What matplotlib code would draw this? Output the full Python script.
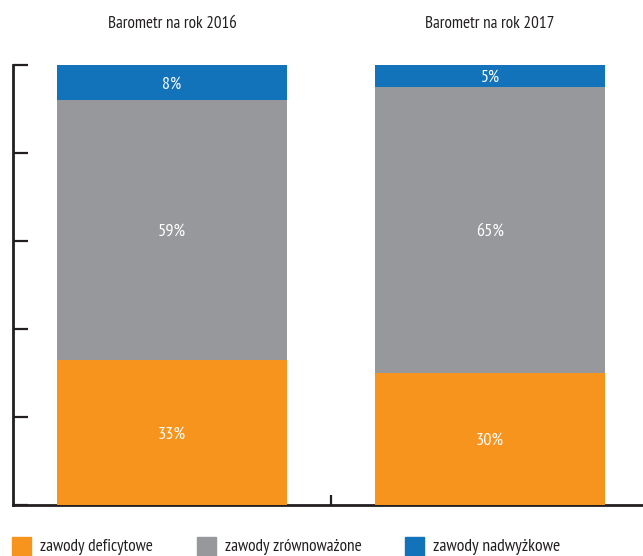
import numpy as np
import matplotlib
matplotlib.use('Agg')
import matplotlib.pyplot as plt
import matplotlib.patches as mpatches

plt.rcParams['font.family'] = ['PT Sans Narrow', 'DejaVu Sans']

# data
years = ['Barometr na rok 2016', 'Barometr na rok 2017']
series = ['zawody deficytowe', 'zawody zrównoważone', 'zawody nadwyżkowe']
deficyt = [33, 30]
rownowaga = [59, 65]
nadwyzka = [8, 5]
colors = ['#F7941E', '#97989B', '#1373BA']

W, H = 643, 556
fig = plt.figure(figsize=(W/100, H/100), dpi=100)
ax = fig.add_axes([13/W, 51/H, 636/W, 440/H])
renderer = fig.canvas.get_renderer()


def fit(t, width_px):
    # scale font so the text takes the width seen in the reference
    w = t.get_window_extent(renderer).width
    t.set_fontsize(t.get_fontsize() * width_px / w)


x = np.arange(len(years))
bw = 0.723
bottom = np.zeros(len(years))
for vals, col in zip([deficyt, rownowaga, nadwyzka], colors):
    ax.bar(x, vals, bw, bottom=bottom, color=col, edgecolor='none', zorder=1)
    for xi, b, v in zip(x, bottom, vals):
        t = ax.text(xi, b + v/2, f'{v}%', ha='center', va='center_baseline',
                    color='white', fontsize=11.5)
        fit(t, 28 if v >= 10 else 19)
    bottom += np.array(vals)

for xi, lab in zip(x, years):
    t = ax.text(xi, 109.3, lab, ha='center', va='center', fontsize=12, color='#231F20')
    fit(t, 129)

ax.set_xlim(-0.5, 1.5)
ax.set_ylim(0, 100)
ax.set_yticks(np.arange(0, 101, 20))
ax.set_yticklabels([])
ax.set_xticks([0.5])
ax.set_xticklabels([])
ax.tick_params(axis='y', direction='in', length=11, width=1.6, color='#231F20')
ax.tick_params(axis='x', direction='in', length=7, width=1.6, color='#231F20')
for s in ['top', 'right']:
    ax.spines[s].set_visible(False)
for s in ['left', 'bottom']:
    ax.spines[s].set_linewidth(2)
    ax.spines[s].set_color('#231F20')
    ax.spines[s].set_zorder(0)

# legend
lx = [12, 197, 405]
lw = [113, 137, 127]
for px, lab, col, wpx in zip(lx, series, colors, lw):
    fig.patches.append(mpatches.Rectangle((px/W, 0), 19/W, 19/H,
                                          transform=fig.transFigure, color=col))
    t = fig.text((px + 28)/W, 9/H, lab, ha='left', va='center', fontsize=13,
                 color='#231F20')
    fit(t, wpx)

fig.savefig('out.png', dpi=100)
